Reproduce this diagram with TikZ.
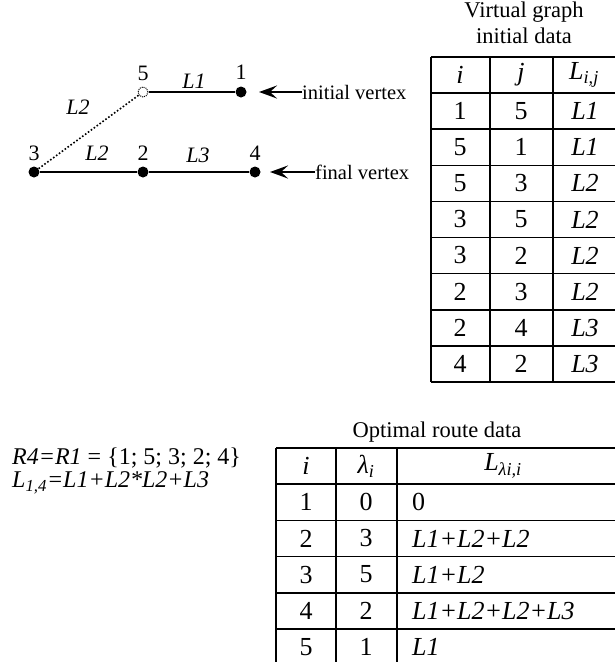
\documentclass[tikz,border=0pt]{standalone}
\usepackage{fontspec}
\setmainfont{Liberation Serif}
\usetikzlibrary{arrows.meta}
\tikzset{
 vertex/.style={circle, fill, inner sep=0pt, minimum size=11pt},
 hollow/.style={circle, draw, densely dotted, line width=1pt, inner sep=0pt, minimum size=10pt},
 edge/.style={line width=1.6pt},
 pointer/.style={line width=2.6pt, -{Stealth[length=18pt, width=13pt, inset=7pt]}},
 rule/.style={line width=1.6pt},
 txt/.style={inner sep=0pt, font=\fontsize{22}{24}\selectfont},
 note/.style={txt, font=\fontsize{20.5}{22}\selectfont},
 title/.style={txt, font=\fontsize{22.5}{25}\selectfont},
 formula/.style={txt, anchor=west, font=\fontsize{24}{26}\selectfont},
 cell/.style={txt, font=\fontsize{26}{28}\selectfont},
}
\begin{document}
\begin{tikzpicture}[x=1pt, y=-1pt]
 \clip (0,0) rectangle (615,662);
 % the graph
 \node[hollow] (v5) at (143,92) {};
 \node[vertex] (v1) at (241,92) {};
 \node[vertex] (v3) at (34,172) {};
 \node[vertex] (v2) at (143,172) {};
 \node[vertex] (v4) at (255,172) {};
 \draw[edge] (v5) -- (v1);
 \draw[edge] (v3) -- (v2) -- (v4);
 \draw[line width=1.6pt, dotted] (v3) -- (v5);
 \node[txt] (n5) at (143,73) {5};
 \node[txt] (n1) at (241,72) {1};
 \node[txt] (n3) at (34,153) {3};
 \node[txt] (n2) at (143,153) {2};
 \node[txt] (n4) at (255,153) {4};
 \node[txt] (e51) at (194,81) {\textit{L1}};
 \node[txt] (e35) at (78,107) {\textit{L2}};
 \node[txt] (e32) at (97,153) {\textit{L2}};
 \node[txt] (e24) at (198,155) {\textit{L3}};
 % pointers to the end vertices
 \node[note, anchor=west] (init) at (302,92) {initial vertex};
 \node[note, anchor=west] (final) at (315,172) {final vertex};
 \coordinate (initTip) at (259,92);
 \coordinate (finalTip) at (270,172);
 \draw[pointer] (init.west) -- (initTip);
 \draw[pointer] (final.west) -- (finalTip);
 % virtual graph table
 \node[title] (vgTitle) at (524,12) {Virtual graph};
 \node[title] (vgSub) at (524,36) {initial data};
 \foreach \r in {0,...,9}
  \draw[rule] (431,57+36.1*\r) -- (620,57+36.1*\r);
 \foreach \c in {431,490,553}
  \draw[rule] (\c,57) -- (\c,382);
 \node[cell] (vgI) at (460,75) {\textit{i}};
 \node[cell] (vgJ) at (521,75) {\textit{j}};
 \node[cell] (vgL) at (584,75) {\textit{L}\textsubscript{\textit{i,j}}};
 \foreach \a/\b/\l [count=\k] in {1/5/L1, 5/1/L1, 5/3/L2, 3/5/L2, 3/2/L2, 2/3/L2, 2/4/L3, 4/2/L3} {
  \node[cell] (vgI\k) at (460,75+36.1*\k) {\a};
  \node[cell] (vgJ\k) at (521,75+36.1*\k) {\b};
  \node[cell] (vgL\k) at (585,75+36.1*\k) {\textit{\l}};
 }
 % the route found
 \node[formula] (route) at (12,458) {\textit{R4=R1} = \{1; 5; 3; 2; 4\}};
 \node[formula] (length) at (12,483) {\textit{L}\textsubscript{\textit{1,4}}\textit{=L1+L2*L2+L3}};
 % optimal route table
 \node[title] (orTitle) at (437,432) {Optimal route data};
 \foreach \r in {0,...,6}
  \draw[rule] (276,448+36.2*\r) -- (620,448+36.2*\r);
 \foreach \c in {276,336,397}
  \draw[rule] (\c,448) -- (\c,700);
 \node[cell] (orI) at (306,466) {\textit{i}};
 \node[cell] (orLam) at (366,466) {\textit{λ}\textsubscript{\textit{i}}};
 \node[cell] (orL) at (503,466) {\textit{L}\textsubscript{\textit{λi,i}}};
 \foreach \a/\b/\l [count=\k] in {1/0/0, 2/3/\textit{L1+L2+L2}, 3/5/\textit{L1+L2}, 4/2/\textit{L1+L2+L2+L3}, 5/1/\textit{L1}} {
  \node[cell] (orI\k) at (306,466+36.2*\k) {\a};
  \node[cell] (orLam\k) at (366,466+36.2*\k) {\b};
  \node[cell, anchor=west] (orL\k) at (412,466+36.2*\k) {\l};
 }
\end{tikzpicture}
\end{document}
